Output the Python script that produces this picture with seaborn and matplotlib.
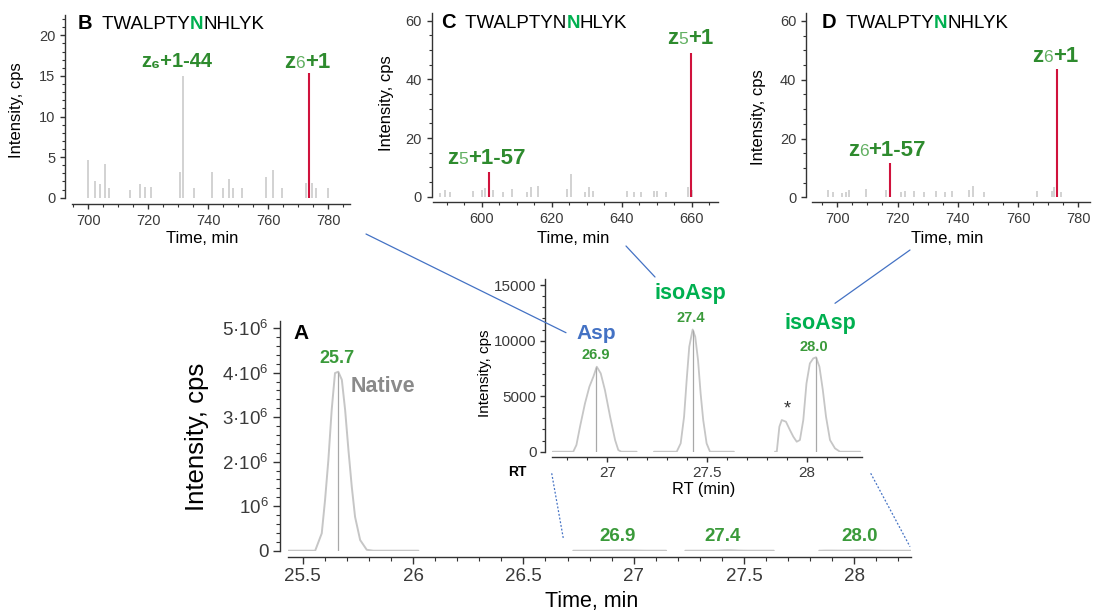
import matplotlib
matplotlib.use("Agg")
import matplotlib.pyplot as plt
import matplotlib.ticker as mticker
from matplotlib.lines import Line2D
from matplotlib.offsetbox import TextArea, HPacker, AnnotationBbox
import seaborn as sns

# ---- data ----
# panel B stick spectrum
b_mz = [700.0, 702.2, 703.8, 705.6, 706.9, 713.9, 717.2, 719.0, 720.8, 730.6, 731.5, 735.3,
        741.3, 744.8, 747.0, 748.3, 751.3, 759.1, 761.7, 764.7, 772.5, 774.6, 776.0, 780.0]
b_int = [4.65, 2.0, 1.7, 4.2, 1.15, 1.0, 1.7, 1.35, 1.35, 3.2, 15.0, 1.15,
         3.2, 1.15, 2.3, 1.15, 1.15, 2.6, 3.4, 1.15, 1.85, 1.85, 1.15, 1.15]
b_red_mz = [773.4]
b_red_int = [15.35]

# panel C
c_mz = [588.1, 589.5, 590.9, 597.4, 600.1, 600.9, 603.3, 606.2, 608.6, 613.0, 614.1, 616.2,
        624.3, 625.4, 629.5, 630.7, 631.9, 641.4, 643.5, 645.4, 649.2, 650.0, 652.7, 659.0, 660.0]
c_int = [1.4, 2.3, 1.5, 1.9, 2.3, 2.8, 2.3, 1.5, 2.7, 1.5, 3.2, 3.7,
         2.7, 7.7, 1.5, 3.2, 1.9, 1.9, 1.7, 1.7, 1.9, 1.9, 1.7, 3.2, 2.3]
c_red_mz = [602.2, 659.7]
c_red_int = [8.5, 49.0]

# panel D
d_mz = [696.8, 698.7, 701.7, 702.9, 703.9, 709.6, 716.1, 721.2, 722.5, 725.6, 728.9, 732.8,
        735.8, 738.0, 743.6, 744.9, 748.7, 766.4, 771.4, 772.0, 774.4]
d_int = [2.5, 1.7, 1.6, 1.9, 2.5, 2.9, 2.5, 1.7, 2.2, 2.2, 1.7, 2.2,
         1.7, 2.2, 2.5, 3.9, 1.7, 2.2, 2.2, 3.4, 1.7]
d_red_mz = [717.5, 772.9]
d_red_int = [11.6, 43.5]

# panel A: native chromatogram
native_t = [25.435, 25.556, 25.563, 25.586, 25.601, 25.616, 25.631, 25.646, 25.661, 25.677,
            25.692, 25.707, 25.722, 25.737, 25.760, 25.790, 25.820, 26.024]
native_i = [0, 0, 0.09e6, 0.39e6, 1.14e6, 2.04e6, 3.16e6, 3.99e6, 4.02e6, 3.84e6,
            3.16e6, 2.26e6, 1.44e6, 0.76e6, 0.24e6, 0.02e6, 0, 0]

# inset chromatograms
asp_t = [26.726, 26.829, 26.845, 26.863, 26.888, 26.910, 26.930, 26.947, 26.967, 26.988,
         27.014, 27.039, 27.055, 27.070, 27.147]
asp_i = [0, 0, 600, 2250, 4350, 5850, 6750, 7650, 7050, 5550, 3150, 1050, 150, 0, 0]
iso1_t = [27.234, 27.348, 27.368, 27.385, 27.398, 27.411, 27.428, 27.441, 27.455, 27.468,
          27.481, 27.498, 27.515, 27.635]
iso1_i = [0, 0, 750, 3150, 6450, 9450, 11000, 10350, 8250, 5250, 2850, 750, 0, 0]
iso2_t = [27.841, 27.850, 27.863, 27.875, 27.896, 27.916, 27.933, 27.950, 27.966, 27.983,
          27.999, 28.016, 28.033, 28.047, 28.064, 28.081, 28.097, 28.117, 28.142, 28.167, 28.268]
iso2_i = [0, 0, 2250, 2850, 2700, 1950, 1350, 900, 1050, 2850,
          6150, 7950, 8400, 8500, 7650, 5550, 3150, 1050, 300, 0, 0]
peak_t = [26.943, 27.428, 28.047]
peak_i = [7650, 11000, 8500]
peak_labels = ["26.9", "27.4", "28.0"]

# ---- style ----
sns.set_theme(style="ticks")
plt.rcParams["font.family"] = ["Liberation Sans", "DejaVu Sans"]
plt.rcParams["mathtext.fontset"] = "custom"
plt.rcParams["mathtext.rm"] = "Liberation Sans"
plt.rcParams["mathtext.it"] = "Liberation Sans:italic"
plt.rcParams["mathtext.bf"] = "Liberation Sans:bold"

W, H = 1093, 614
fig = plt.figure(figsize=(W / 100, H / 100), dpi=100)
fig.patch.set_facecolor("white")

GRAY = "#c6c6c6"
RED = "#d0123c"
DKGREEN = "#2e8b2e"
LTGREEN = "#62b062"
BRGREEN = "#00b050"
NUMGREEN = "#3a9a3a"
BLUE = "#4472c4"


def box(l, t, r, b):
    return [l / W, 1 - b / H, (r - l) / W, (b - t) / H]


def fp(x, y):
    return (x / W, 1 - y / H)


def style(ax, left_out, bottom_out, size, major=3.6, minor=1.9, pad=2.5):
    sns.despine(ax=ax)
    ax.spines["left"].set_position(("outward", left_out * 0.72))
    ax.spines["bottom"].set_position(("outward", bottom_out * 0.72))
    for s in ("left", "bottom"):
        ax.spines[s].set_color("#333333")
        ax.spines[s].set_linewidth(1.0)
    ax.tick_params(which="major", length=major, width=1.0, color="#333333",
                   labelsize=size, labelcolor="#3a3a3a", pad=pad)
    ax.tick_params(which="minor", length=minor, width=0.8, color="#333333")
    ax.set_facecolor("none")
    ax.grid(False)


def ftext(x, y, s, **kw):
    fig.text(*fp(x, y), s, ha="center", va="center", **kw)


def rich(x, y, parts, align=(0.5, 0.5)):
    areas = [TextArea(s, textprops=p) for s, p in parts]
    pk = HPacker(children=areas, align="baseline", pad=0, sep=0)
    ab = AnnotationBbox(pk, fp(x, y), xycoords="figure fraction",
                        box_alignment=align, frameon=False, pad=0)
    fig.add_artist(ab)


def zlabel(x, y, n, tail):
    rich(x, y, [("z", dict(color=DKGREEN, fontsize=16, fontweight="bold")),
                (n, dict(color=LTGREEN, fontsize=12.5)),
                (tail, dict(color=DKGREEN, fontsize=16, fontweight="bold"))])


def title(x, y, letter, green_idx):
    seq = "TWALPTYNNHLYK"
    rich(x, y, [(letter, dict(color="black", fontsize=14.5, fontweight="bold")),
                ("  " + seq[:green_idx], dict(color="black", fontsize=13.5)),
                (seq[green_idx], dict(color=BRGREEN, fontsize=13.5, fontweight="bold")),
                (seq[green_idx + 1:], dict(color="black", fontsize=13.5))],
         align=(0, 0.5))


# ---- spectra panels ----
def spectrum(rect, xlim, ylim, mz, inten, red_mz, red_int, xmaj, ymaj, ymin, lo, bo):
    ax = fig.add_axes(rect)
    ax.vlines(mz, 0, inten, color=GRAY, lw=1.1)
    ax.vlines(red_mz, 0, red_int, color=RED, lw=1.5)
    ax.set_xlim(*xlim)
    ax.set_ylim(*ylim)
    ax.xaxis.set_major_locator(mticker.MultipleLocator(xmaj))
    ax.xaxis.set_minor_locator(mticker.MultipleLocator(5))
    ax.yaxis.set_major_locator(mticker.MultipleLocator(ymaj))
    ax.yaxis.set_minor_locator(mticker.MultipleLocator(ymin))
    style(ax, lo, bo, 10.5, pad=3.5)
    return ax


axB = spectrum(box(71.7, 15, 350, 197.7), (694.5, 787.2), (0, 22.5),
               b_mz, b_int, b_red_mz, b_red_int, 20, 5, 1, 6.7, 6.3)
axC = spectrum(box(433, 13, 718, 196.7), (586.1, 667.5), (0, 62.6),
               c_mz, c_int, c_red_mz, c_red_int, 20, 20, 5, 1.3, 5)
axD = spectrum(box(811.7, 13.3, 1090, 197.3), (691.5, 783.9), (0, 62.6),
               d_mz, d_int, d_red_mz, d_red_int, 20, 20, 5, 5.7, 5)

for xl, yl_x, yl_y in [(202.5, 16.7, 110), (573.3, 386.7, 103.3), (946.7, 758.3, 116.7)]:
    ftext(xl, 238.5, "Time, min", fontsize=12, color="black")
    ftext(yl_x, yl_y, "Intensity, cps", fontsize=12, color="black", rotation=90)

title(77.3, 23.5, "B", 7)
title(440.7, 22.7, "C", 8)
title(821.7, 22.7, "D", 7)

rich(177, 62, [("z₆+1-44", dict(color=DKGREEN, fontsize=14.5, fontweight="bold"))])
zlabel(307, 62, "6", "+1")
zlabel(486.7, 158, "5", "+1-57")
zlabel(690, 38, "5", "+1")
zlabel(886.7, 150, "6", "+1-57")
zlabel(1055, 57, "6", "+1")

# ---- main chromatogram panel A ----
axA = fig.add_axes(box(288, 321, 911, 550.7))
sns.lineplot(x=native_t, y=native_i, ax=axA, color=GRAY, lw=1.4, estimator=None, sort=False)
for t, i in [(asp_t, asp_i), (iso1_t, iso1_i), (iso2_t, iso2_i)]:
    sns.lineplot(x=t, y=i, ax=axA, color=GRAY, lw=1.4, estimator=None, sort=False)
axA.vlines([native_t[8]], 0, [native_i[8]], color="#a8a8a8", lw=0.9)
axA.set_xlim(25.433, 28.257)
axA.set_ylim(0, 5.16e6)
axA.xaxis.set_major_locator(mticker.MultipleLocator(0.5))
axA.xaxis.set_minor_locator(mticker.MultipleLocator(0.1))
axA.xaxis.set_major_formatter(mticker.FormatStrFormatter("%g"))
axA.yaxis.set_major_locator(mticker.MultipleLocator(1e6))
axA.yaxis.set_minor_locator(mticker.MultipleLocator(2e5))


def sci_fmt(v, pos):
    n = int(round(v / 1e6))
    if n == 0:
        return "0"
    if n == 1:
        return r"$10^{6}$"
    return rf"${n}·10^{{6}}$"


axA.yaxis.set_major_formatter(mticker.FuncFormatter(sci_fmt))
style(axA, 8.5, 6.5, 13.5, major=5, minor=2.8, pad=3)
axA.set_xlabel("")
axA.set_ylabel("")
ftext(196.7, 436.7, "Intensity, cps", fontsize=18.5, color="black", rotation=90)
ftext(591.7, 601.5, "Time, min", fontsize=15.5, color="black")

ftext(300.7, 333.3, "A", fontsize=15, fontweight="bold", color="black")
ftext(336.7, 358.3, "25.7", fontsize=13, fontweight="bold", color=NUMGREEN)
ftext(383, 387, "Native", fontsize=15.5, fontweight="bold", color="#8a8a8a")
for x, s in zip([618, 722.7, 860], peak_labels):
    ftext(x, 536.7, s, fontsize=13.5, fontweight="bold", color=NUMGREEN)

# ---- inset ----
axI = fig.add_axes(box(551.7, 279.3, 861.7, 451.7))
for t, i in [(asp_t, asp_i), (iso1_t, iso1_i), (iso2_t, iso2_i)]:
    sns.lineplot(x=t, y=i, ax=axI, color=GRAY, lw=1.3, estimator=None, sort=False)
axI.vlines(peak_t, 0, peak_i, color="#a8a8a8", lw=0.9)
axI.set_xlim(26.721, 28.276)
axI.set_ylim(0, 15520)
axI.xaxis.set_major_locator(mticker.MultipleLocator(0.5))
axI.xaxis.set_minor_locator(mticker.MultipleLocator(0.1))
axI.xaxis.set_major_formatter(mticker.FormatStrFormatter("%g"))
axI.yaxis.set_major_locator(mticker.MultipleLocator(5000))
axI.yaxis.set_minor_locator(mticker.MultipleLocator(1000))
style(axI, 6.7, 5.6, 11, pad=2.5)
axI.set_xlabel("")
axI.set_ylabel("")
ftext(485, 373.3, "Intensity, cps", fontsize=11, color="black", rotation=90)
ftext(703.3, 489.3, "RT (min)", fontsize=11.7, color="black")
ftext(517.3, 471.5, "RT", fontsize=10, fontweight="bold", color="black")

ftext(596.7, 333.3, "Asp", fontsize=15, fontweight="bold", color=BLUE)
ftext(596, 355, "26.9", fontsize=10.5, fontweight="bold", color=NUMGREEN)
ftext(690.7, 294, "isoAsp", fontsize=15.5, fontweight="bold", color=BRGREEN)
ftext(690.7, 318.3, "27.4", fontsize=10.5, fontweight="bold", color=NUMGREEN)
ftext(820, 323.3, "isoAsp", fontsize=15.5, fontweight="bold", color=BRGREEN)
ftext(814, 347.3, "28.0", fontsize=10.5, fontweight="bold", color=NUMGREEN)
ftext(787.7, 409, "*", fontsize=13, color="#333333")

# ---- connector lines ----
for (x1, y1), (x2, y2), ls in [((366, 234), (566, 332.7), "-"),
                               ((626, 246), (655, 277), "-"),
                               ((910, 250), (835, 303.3), "-"),
                               ((551.7, 473.3), (563.3, 538.3), (0, (1.5, 1.5))),
                               ((870.7, 473.3), (910, 546.7), (0, (1.5, 1.5)))]:
    fig.add_artist(Line2D([x1 / W, x2 / W], [1 - y1 / H, 1 - y2 / H],
                          transform=fig.transFigure, color=BLUE, lw=0.9, linestyle=ls))

fig.savefig("out.png", dpi=100, facecolor="white")
